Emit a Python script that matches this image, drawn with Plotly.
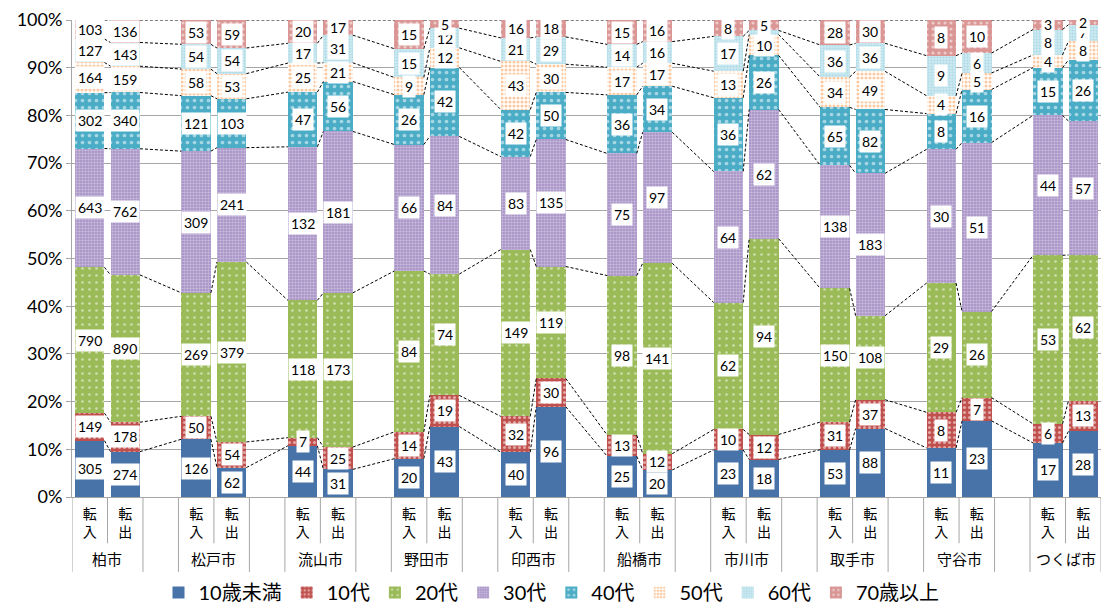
import plotly.graph_objects as go

# --- data -------------------------------------------------------------
cities = ["柏市", "松戸市", "流山市", "野田市", "印西市",
          "船橋市", "市川市", "取手市", "守谷市", "つくば市"]
moves = ["転入", "転出"]
age_groups = ["10歳未満", "10代", "20代", "30代", "40代", "50代", "60代", "70歳以上"]
y_tick_vals = [0, 10, 20, 30, 40, 50, 60, 70, 80, 90, 100]

# counts, city by city: [転入, 転出, 転入, 転出, ...]
under10 = [305, 274, 126, 62, 44, 31, 20, 43, 40, 96, 25, 20, 23, 18, 53, 88, 11, 23, 17, 28]
teens = [149, 178, 50, 54, 7, 25, 14, 19, 32, 30, 13, 12, 10, 12, 31, 37, 8, 7, 6, 13]
twenties = [790, 890, 269, 379, 118, 173, 84, 74, 149, 119, 98, 141, 62, 94, 150, 108, 29, 26, 53, 62]
thirties = [643, 762, 309, 241, 132, 181, 66, 84, 83, 135, 75, 97, 64, 62, 138, 183, 30, 51, 44, 57]
forties = [302, 340, 121, 103, 47, 56, 26, 42, 42, 50, 36, 34, 36, 26, 65, 82, 8, 16, 15, 26]
fifties = [164, 159, 58, 53, 25, 21, 9, 12, 43, 30, 17, 17, 13, 10, 34, 49, 4, 5, 4, 8]
sixties = [127, 143, 54, 54, 17, 31, 15, 12, 21, 29, 14, 16, 17, 2, 36, 36, 9, 6, 8, 7]
over70 = [103, 136, 53, 59, 20, 17, 15, 5, 16, 18, 15, 16, 8, 5, 28, 30, 8, 10, 3, 2]

series = [under10, teens, twenties, thirties, forties, fifties, sixties, over70]

# labels that sit under a neighbouring label and are left out
hidden_labels = {("市川市", "転出", "60代")}

# --- styles -----------------------------------------------------------
styles = [
    dict(color="#4773A9", pattern=dict(shape="")),
    dict(color="#C0504D", pattern=dict(shape=".", fgcolor="white", bgcolor="#C0504D", size=5, solidity=0.3)),
    dict(color="#9BBB59", pattern=dict(shape=".", fgcolor="white", bgcolor="#9BBB59", size=7, solidity=0.12)),
    dict(color="#B3A2CC", pattern=dict(shape=".", fgcolor="#ECE6F4", bgcolor="#A08BC2", size=3, solidity=0.55)),
    dict(color="#4BACC6", pattern=dict(shape=".", fgcolor="white", bgcolor="#4BACC6", size=7, solidity=0.22)),
    dict(color="#FBD1AE", pattern=dict(shape=".", fgcolor="#F79646", bgcolor="white", size=4, solidity=0.5)),
    dict(color="#C4E5EE", pattern=dict(shape=".", fgcolor="#8FCBDB", bgcolor="#D3ECF3", size=3, solidity=0.5)),
    dict(color="#D99694", pattern=dict(shape=".", fgcolor="white", bgcolor="#D99694", size=6, solidity=0.22)),
]

FONT = "Lato, 'Noto Sans CJK JP', sans-serif"
BAR_W = 0.83
GRAY = "#A6A6A6"

# slot positions: each city takes two bars plus one empty slot
positions = []
city_of = []
move_of = []
for c, city in enumerate(cities):
    for m, mv in enumerate(moves):
        positions.append(3 * c + m)
        city_of.append(city)
        move_of.append(mv)
n_bars = len(positions)
x_max = positions[-1] + 0.5

totals = [sum(s[k] for s in series) for k in range(n_bars)]
shares = [[s[k] / totals[k] * 100 for k in range(n_bars)] for s in series]
cum_top = []
running = [0.0] * n_bars
for sh in shares:
    running = [running[k] + sh[k] for k in range(n_bars)]
    cum_top.append(list(running))

fig = go.Figure()

for j, (name, vals) in enumerate(zip(age_groups, series)):
    fig.add_trace(go.Bar(
        name=name, x=positions, y=vals, width=BAR_W,
        marker=dict(color=styles[j]["color"], pattern=styles[j]["pattern"], line=dict(width=0)),
        hoverinfo="skip",
    ))

# dashed series lines joining segment tops of neighbouring bars
for j in range(len(series)):
    xs, ys = [], []
    for k in range(n_bars - 1):
        xs += [positions[k] + BAR_W / 2, positions[k + 1] - BAR_W / 2, None]
        ys += [cum_top[j][k], cum_top[j][k + 1], None]
    fig.add_trace(go.Scatter(
        x=xs, y=ys, mode="lines", showlegend=False, hoverinfo="skip",
        line=dict(color="black", width=1, dash="3px,2px"),
    ))

annotations = []
# value labels in white boxes
for j, name in enumerate(age_groups):
    for k in range(n_bars):
        if (city_of[k], move_of[k], name) in hidden_labels:
            continue
        mid = cum_top[j][k] - shares[j][k] / 2
        annotations.append(dict(
            x=positions[k], y=mid, xref="x", yref="y",
            text=str(series[j][k]), showarrow=False,
            font=dict(family=FONT, size=14, color="black"),
            bgcolor="white", borderpad=2,
        ))

# city names
for c, city in enumerate(cities):
    annotations.append(dict(
        x=3 * c + 0.5, y=-0.129, xref="x", yref="paper",
        text=city, showarrow=False, yanchor="middle",
        font=dict(family=FONT, size=15, color="black"),
    ))

# dividers under the category axis
shapes = []
for c in range(len(cities)):
    shapes.append(dict(type="line", xref="x", yref="paper", x0=3 * c + 0.5, x1=3 * c + 0.5,
                       y0=0, y1=-0.097, line=dict(color=GRAY, width=1)))
    for xb in (3 * c - 0.5, 3 * c + 1.5):
        shapes.append(dict(type="line", xref="x", yref="paper", x0=xb, x1=xb,
                           y0=0, y1=-0.157, line=dict(color=GRAY, width=1)))

fig.update_layout(
    width=1103, height=606,
    margin=dict(l=72, r=2, t=20, b=109, autoexpand=False),
    barmode="stack", barnorm="percent",
    plot_bgcolor="white", paper_bgcolor="white",
    font=dict(family=FONT, color="black"),
    annotations=annotations, shapes=shapes,
    showlegend=True,
    legend=dict(orientation="h", xref="container", yref="paper",
                x=0.5, xanchor="center", y=-0.2, yanchor="middle",
                font=dict(family=FONT, size=20), traceorder="normal",
                itemwidth=30, tracegroupgap=0, bgcolor="rgba(0,0,0,0)"),
)

fig.update_xaxes(
    range=[-0.5, x_max], tickmode="array", tickvals=positions,
    ticktext=[mv[0] + "<br>" + mv[1] for mv in move_of],
    tickfont=dict(family=FONT, size=14), ticks="", ticklabelstandoff=4,
    showgrid=False, zeroline=False,
    showline=True, linecolor=GRAY, linewidth=1,
)
fig.update_yaxes(
    range=[0, 100], tickmode="array", tickvals=y_tick_vals,
    ticktext=[f"{v}%" for v in y_tick_vals],
    tickfont=dict(family=FONT, size=18), ticks="outside", ticklen=5, tickcolor=GRAY,
    showgrid=True, gridcolor=GRAY, gridwidth=1, zeroline=False,
    showline=True, linecolor=GRAY, linewidth=1,
)

fig.write_html("out.html")
